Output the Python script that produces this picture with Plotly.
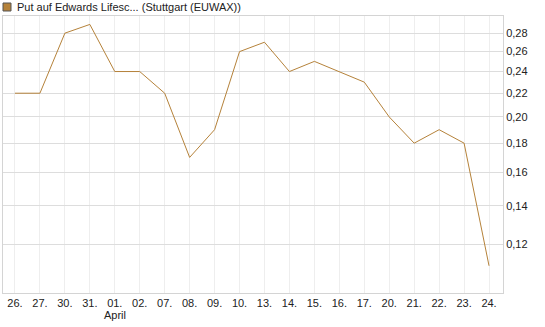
import plotly.graph_objects as go

dates = ["26.", "27.", "30.", "31.", "01.", "02.", "07.", "08.", "09.", "10.",
         "13.", "14.", "15.", "16.", "17.", "20.", "21.", "22.", "23.", "24."]
values = [0.22, 0.22, 0.28, 0.29, 0.24, 0.24, 0.22, 0.17, 0.19, 0.26,
          0.27, 0.24, 0.25, 0.24, 0.23, 0.20, 0.18, 0.19, 0.18, 0.11]
y_ticks = [0.12, 0.14, 0.16, 0.18, 0.20, 0.22, 0.24, 0.26, 0.28]
series_name = "Put auf Edwards Lifesc... (Stuttgart (EUWAX))"
month_label = "April"

line_color = "#b5823a"

fig = go.Figure()
fig.add_trace(go.Scatter(
    x=list(range(len(dates))), y=values, mode="lines",
    line=dict(color=line_color, width=1), showlegend=False,
))

W, H = 545, 327
ml, mr, mt, mb = 3, 42, 16, 34
pw, ph = W - ml - mr, H - mt - mb

def px_to_paper_y(py):
    return (H - mb - py) / ph

def px_to_paper_x(px):
    return (px - ml) / pw

fig.update_layout(
    width=W, height=H,
    margin=dict(l=ml, r=mr, t=mt, b=mb),
    paper_bgcolor="white", plot_bgcolor="white",
    separators=",.",
    font=dict(family="Liberation Sans, Arial, sans-serif", size=11, color="#222"),
    xaxis=dict(
        tickmode="array", tickvals=list(range(len(dates))), ticktext=dates,
        range=[-0.48, len(dates) - 1 + 0.56],
        showgrid=True, gridcolor="#eeeeee", gridwidth=1,
        showline=True, linecolor="#d4d4d4", mirror=True,
        ticks="", zeroline=False, tickfont=dict(size=11, color="#222"),
    ),
    yaxis=dict(
        type="log", side="right",
        range=[-1.0061, -0.5229],
        tickmode="array", tickvals=y_ticks,
        ticktext=[f"{v:.2f}".replace(".", ",") for v in y_ticks],
        showgrid=True, gridcolor="#dddddd", gridwidth=1,
        showline=True, linecolor="#d4d4d4", mirror=True,
        ticks="", zeroline=False, tickfont=dict(size=11, color="#222"),
    ),
    shapes=[dict(
        type="rect", xref="paper", yref="paper",
        x0=px_to_paper_x(3), x1=px_to_paper_x(11),
        y0=px_to_paper_y(11), y1=px_to_paper_y(3),
        fillcolor="#b5823a", line=dict(color="#555555", width=1),
    )],
    annotations=[
        dict(text=series_name, xref="paper", yref="paper",
             x=px_to_paper_x(15), y=px_to_paper_y(7), xanchor="left", yanchor="middle",
             showarrow=False, font=dict(size=11, color="#222")),
        dict(text=month_label, xref="x", yref="paper", x=4, y=0,
             xanchor="center", yanchor="top", yshift=-14, showarrow=False,
             font=dict(size=11, color="#222")),
    ],
)

fig.write_html("out.html")
